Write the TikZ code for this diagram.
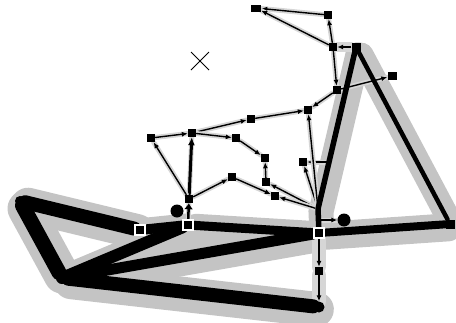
\documentclass[tikz,border=0pt]{standalone}
\usepackage{tikz}
\usetikzlibrary{arrows.meta,positioning,backgrounds}
\pgfdeclarelayer{glow}
\pgfdeclarelayer{wire}
\pgfdeclarelayer{heavy}
\pgfsetlayers{glow,wire,heavy,main}
\definecolor{hazegray}{RGB}{196,196,196}
\definecolor{wiregray}{RGB}{214,214,214}

\begin{document}
\begin{tikzpicture}[
        x=1pt, y=-1pt,
        box/.style={rectangle, fill=black, minimum size=8pt, inner sep=0pt},
        wbox/.style={rectangle, fill=black, draw=white, line width=1.2pt, minimum size=10pt, inner sep=0pt},
        dot/.style={circle, fill=black, minimum size=11pt, inner sep=0pt},
        link/.style={-{Latex[length=6pt,width=5pt]}, line width=1.4pt, preaction={draw=wiregray, line width=#1, arrows=-, line cap=round}},
        link/.default=5pt,
        beam/.style={line width=#1, line cap=round},
        haze/.style={draw=hazegray, line width=#1, line cap=round, transform canvas={xshift=3pt, yshift=-3pt}}
    ]
        \useasboundingbox (0,0) rectangle (456,322);

        % upper cluster
        \node[box, minimum width=10pt, minimum height=7pt] (tag) at (256,8) {};
        \node[box] (crown) at (328,15) {};
        \node[box] (fork) at (333,47) {};
        \node[box, minimum size=9pt] (apex) at (356,47) {};
        \node[box, minimum width=9pt, minimum height=8pt] (ear) at (392,76) {};
        \node[box] (relay) at (337,90) {};
        \node[box] (gate) at (308,110) {};
        \node[box] (hop) at (251,119) {};
        \node[box] (spine) at (192,133) {};
        \node[box] (wing) at (151,138) {};
        \node[box] (knot) at (236,138) {};
        \node[box] (bell) at (265,158) {};
        \node[box] (stem) at (266,182) {};
        \node[box] (twig) at (232,177) {};
        \node[box] (leaf) at (275,196) {};
        \node[box] (perch) at (303,162) {};
        \node[box] (root) at (189,199) {};
        \coordinate (hub) at (318,209);
        \coordinate (tap) at (320,220);
        \coordinate (side) at (329,162);

        % lower frame
        \node[wbox] (base) at (188,225) {};
        \node[dot, minimum size=13pt] (bud) at (177,211) {};
        \node[wbox] (notch) at (140,230) {};
        \node[dot, minimum size=10pt] (heel) at (20,201) {};
        \node[dot, minimum size=12pt] (toe) at (62,278) {};
        \node[wbox] (joint) at (319,233) {};
        \node[dot, minimum size=13pt] (orb) at (344,220) {};
        \node[box, minimum size=9pt] (tip) at (450,224) {};
        \node[box] (drop) at (319,271) {};
        \node[dot] (foot) at (319,307) {};

        \draw[line width=0.8pt] (191,52) -- (209,70) (191,70) -- (209,52);

        \begin{pgfonlayer}{glow}
            \draw[haze=36pt] (heel) -- (toe);
            \draw[haze=35pt] (heel) -- (notch);
            \draw[haze=30pt] (notch) -- (base);
            \draw[haze=32pt] (toe) -- (base);
            \draw[haze=31pt] (toe) -- (joint);
            \draw[haze=29pt] (base) -- (joint);
            \draw[haze=35pt] (toe) -- (foot);
            \draw[haze=28pt] (joint) -- (tip);
            \draw[haze=24pt] (tip) -- (apex);
            \draw[haze=25pt] (apex) -- (hub) -- (joint);
        \end{pgfonlayer}

        \begin{pgfonlayer}{heavy}
            \draw[beam=15pt] (heel) -- (toe);
            \draw[beam=14pt] (heel) -- (notch);
            \draw[beam=10pt] (notch) -- (base);
            \draw[beam=12pt] (toe) -- (base);
            \draw[beam=11pt] (toe) -- (joint);
            \draw[beam=9pt] (base) -- (joint);
            \draw[beam=14pt] (toe) -- (foot);
            \draw[beam=8pt] (joint) -- (tip);
            \draw[beam=4.5pt] (tip) -- (apex);
            \draw[beam=5.5pt, line join=round] (apex) -- (hub) -- (joint);
        \end{pgfonlayer}

        \begin{pgfonlayer}{wire}
            \draw[link] (crown) -- (tag);
            \draw[link] (fork) -- (tag);
            \draw[link] (fork) -- (crown);
            \draw[link=10pt] (apex) -- (fork);
            \draw[link] (fork) -- (relay);
            \draw[link] (relay) -- (ear);
            \draw[link] (relay) -- (gate);
            \draw[link] (hop) -- (gate);
            \draw[link] (spine) -- (hop);
            \draw[link] (wing) -- (spine);
            \draw[link] (spine) -- (knot);
            \draw[link] (knot) -- (bell);
            \draw[link] (stem) -- (bell);
            \draw[link, line width=3pt, -{Latex[length=8pt,width=7pt]}] (root) -- (spine);
            \draw[link] (root) -- (wing);
            \draw[link] (root) -- (twig);
            \draw[link] (twig) -- (leaf);
            \draw[link] (hub) -- (stem);
            \draw[link] (hub) -- (leaf);
            \draw[link] (hub) -- (perch);
            \draw[link] (side) -- (perch);
            \draw[link] (hub) -- (gate);
            \draw[link] (tap) -- (orb);
            \draw[link=14pt] (joint) -- (drop);
            \draw[link=14pt] (drop) -- (foot);
            \draw[link, line width=2.5pt, -{Latex[length=6pt,width=9pt]}] (base) -- (root);
        \end{pgfonlayer}
    \end{tikzpicture}
\end{document}
